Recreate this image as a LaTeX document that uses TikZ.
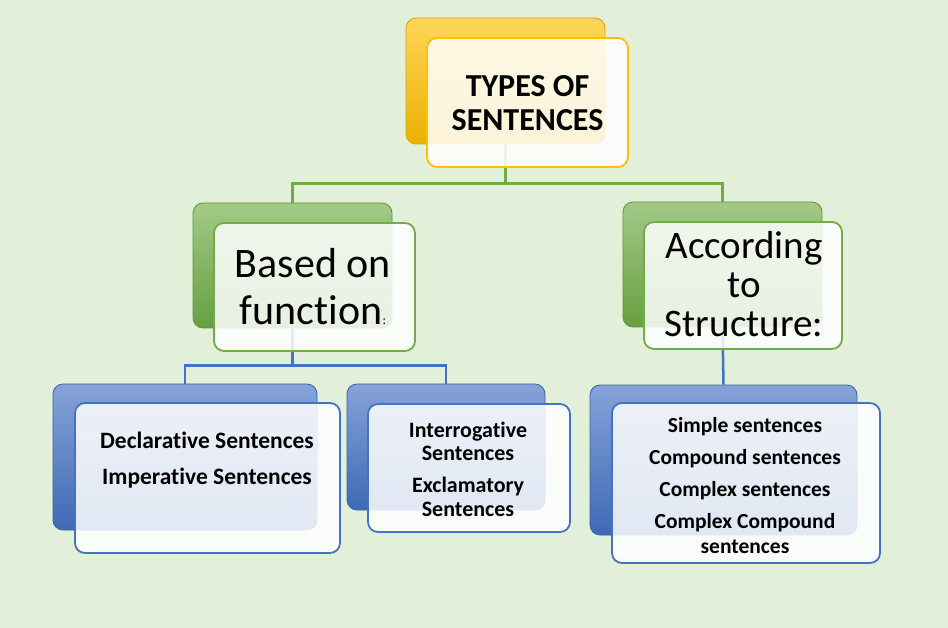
\documentclass[tikz,border=0pt]{standalone}
\usepackage{fontspec}
\setmainfont{Carlito}[Ligatures=NoCommon]
\usetikzlibrary{backgrounds}
\definecolor{bgc}{HTML}{E2EFD9}
\definecolor{ygold}{HTML}{FFC000}
\definecolor{grn}{HTML}{70AD47}
\definecolor{blu}{HTML}{4472C4}
\pgfdeclarelayer{bottom}
\pgfdeclarelayer{lines}
\pgfsetlayers{bottom,lines,main}
\tikzset{
  backbox/.style={rounded corners=10pt, draw=#1!85!black, line width=0.8pt,
    top color=#1!65!white, middle color=#1, bottom color=#1!92!black,
    inner sep=0pt},
  frontbox/.style={rounded corners=10pt, draw=#1, line width=1.8pt,
    fill=white, fill opacity=0.85, inner sep=0pt},
  conn/.style={draw=#1, line width=2.5pt},
  boldtxt/.style={font=\bfseries, align=center, inner sep=0pt, text=black},
  bigtxt/.style={align=center, inner sep=0pt, text=black},
}
\begin{document}
\begin{tikzpicture}[x=1pt,y=-1pt]
\begin{pgfonlayer}{bottom}
  \fill[bgc] (0,0) rectangle (948,628);
\end{pgfonlayer}
\useasboundingbox (0,0) rectangle (948,628);

% top
\node[backbox=ygold, minimum width=199pt, minimum height=126pt] (topB) at (505.5,81) {};
\node[frontbox=ygold, minimum width=201pt, minimum height=129pt] (topF) at (527.5,102.5) {};
\node[boldtxt, font=\bfseries\fontsize{32}{34}\selectfont] (topT) at (527.5,103) {TYPES OF\\SENTENCES};

% left green
\node[backbox=grn, minimum width=199pt, minimum height=125pt] (lgB) at (292.5,265.5) {};
\node[frontbox=grn, minimum width=201pt, minimum height=128pt] (lgF) at (314.5,287) {};
\node[bigtxt, font=\fontsize{42}{47}\selectfont] (lgT) at (313,287) {Based on\\function{\fontsize{13}{13}\selectfont:}};

% right green
\node[backbox=grn, minimum width=199pt, minimum height=125pt] (rgB) at (722.5,264.5) {};
\node[frontbox=grn, minimum width=198pt, minimum height=127pt] (rgF) at (743,285.5) {};
\node[bigtxt, font=\fontsize{39}{39}\selectfont] (rgT) at (744,284) {According\\to\\Structure:};

% left blue
\node[backbox=blu, minimum width=264pt, minimum height=146pt] (lbB) at (185,457) {};
\node[frontbox=blu, minimum width=265pt, minimum height=150pt] (lbF) at (207.5,478) {};
\node[boldtxt, font=\bfseries\fontsize{23.5}{25}\selectfont] (lbT) at (207,460) {Declarative Sentences\\[11pt]Imperative Sentences};

% middle blue
\node[backbox=blu, minimum width=198pt, minimum height=126pt] (mbB) at (446,447) {};
\node[frontbox=blu, minimum width=202pt, minimum height=128pt] (mbF) at (469,468) {};
\node[boldtxt, font=\bfseries\fontsize{22}{23.5}\selectfont] (mbT) at (468,469) {Interrogative\\Sentences\\[8.5pt]Exclamatory\\Sentences};

% right blue
\node[backbox=blu, minimum width=267pt, minimum height=150pt] (rbB) at (723.5,460) {};
\node[frontbox=blu, minimum width=268pt, minimum height=160pt] (rbF) at (746,483) {};
\node[boldtxt, font=\bfseries\fontsize{21.5}{25}\selectfont] (rbT) at (745,486) {Simple sentences\\[7pt]Compound sentences\\[7pt]Complex sentences\\[7pt]Complex Compound\\sentences};

\begin{pgfonlayer}{lines}
  \draw[conn=grn] (topB.south) -- ++(0,39) -| (lgB.north);
  \draw[conn=grn] (topB.south) -- ++(0,39) -| (rgB.north);
  \draw[conn=blu] (lgB.south) -- ++(0,37) -| (lbB.north);
  \draw[conn=blu] (lgB.south) -- ++(0,37) -| (mbB.north);
  \draw[conn=blu] (rgB.south) -- (rbB.north);
\end{pgfonlayer}
\end{tikzpicture}
\end{document}
